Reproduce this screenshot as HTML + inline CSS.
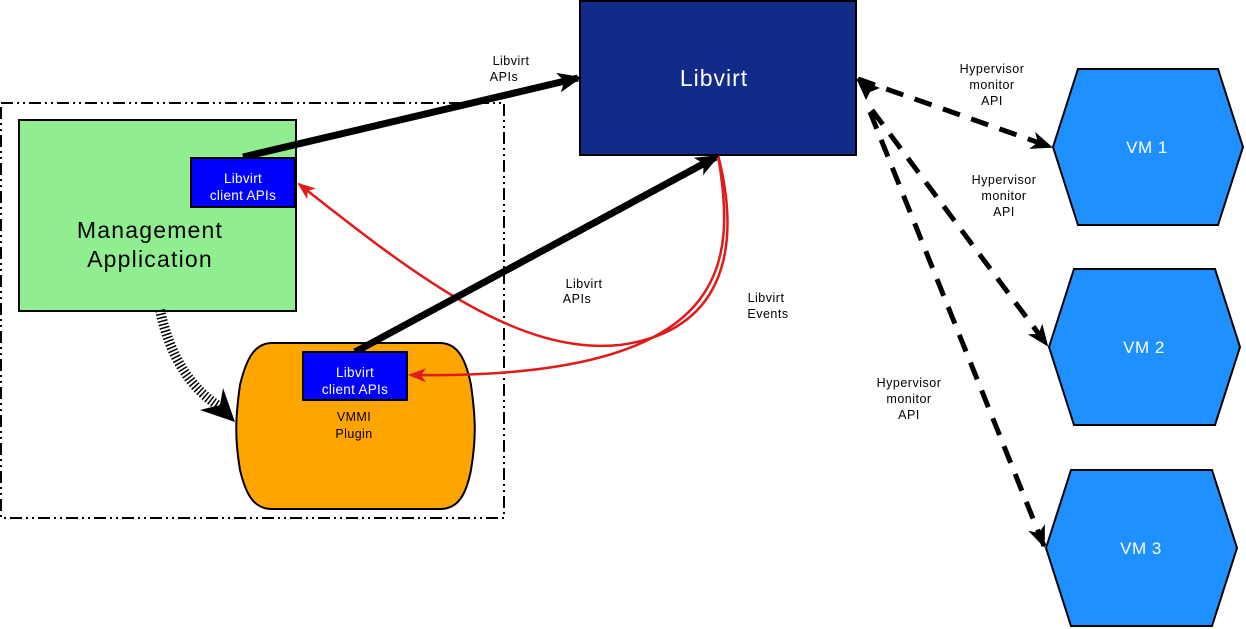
<!DOCTYPE html>
<html><head><style>html,body{margin:0;padding:0;background:#fff;}svg{display:block;font-family:"Liberation Sans",sans-serif;}</style></head>
<body>
<svg width="1246" height="629" viewBox="0 0 1246 629" xmlns="http://www.w3.org/2000/svg">
<defs>
<marker id="abig" markerWidth="24" markerHeight="24" refX="20" refY="12" orient="auto" markerUnits="userSpaceOnUse" viewBox="0 0 24 24"><path d="M0,2 L24,12 L0,22 L6,12 Z" fill="#000"/></marker>
<marker id="ad" markerWidth="22" markerHeight="22" refX="20" refY="11" orient="auto" markerUnits="userSpaceOnUse" viewBox="0 0 22 22"><path d="M0,2 L22,11 L0,20 L6,11 Z" fill="#000"/></marker>
<marker id="ar" markerWidth="18" markerHeight="18" refX="16" refY="9" orient="auto" markerUnits="userSpaceOnUse" viewBox="0 0 18 18"><path d="M0,2 L18,9 L0,16 L5,9 Z" fill="#e01b1b"/></marker>
</defs>
<rect x="1" y="103" width="503" height="415" fill="none" stroke="#000" stroke-width="2" stroke-dasharray="12,4,2,4,2,4"/>
<rect x="19" y="120" width="277" height="191" fill="#90ee90" stroke="#000" stroke-width="2"/>
<text x="150" y="238" font-size="23" letter-spacing="1.2" text-anchor="middle">Management</text>
<text x="150" y="267" font-size="23" letter-spacing="1.2" text-anchor="middle">Application</text>
<path d="M272,343 L440,343 C458,343 466,360 471,385 C476,420 476,440 471,470 C466,495 458,509 440,509 L272,509 C254,509 246,495 240,470 C235,440 235,420 240,385 C246,360 254,343 272,343 Z" fill="#ffa500" stroke="#000" stroke-width="2"/>
<text x="354" y="421" font-size="12.5" letter-spacing="0.4" text-anchor="middle">VMMI</text>
<text x="354" y="438" font-size="12.5" letter-spacing="0.4" text-anchor="middle">Plugin</text>
<rect x="580" y="1" width="276" height="154" fill="#122a88" stroke="#000" stroke-width="2"/>
<text x="714" y="86" font-size="23" letter-spacing="1" text-anchor="middle" fill="#fff">Libvirt</text>
<polygon points="1053,147 1078,69 1218,69 1243,147 1218,225 1078,225" fill="#1e90ff" stroke="#000" stroke-width="2"/>
<polygon points="1049,347 1074,269 1215,269 1240,347 1215,425 1074,425" fill="#1e90ff" stroke="#000" stroke-width="2"/>
<polygon points="1046,548 1071,470 1212,470 1237,548 1212,626 1071,626" fill="#1e90ff" stroke="#000" stroke-width="2"/>
<text x="1147" y="153" font-size="17" letter-spacing="0.5" text-anchor="middle" fill="#fff">VM 1</text>
<text x="1144" y="353" font-size="17" letter-spacing="0.5" text-anchor="middle" fill="#fff">VM 2</text>
<text x="1141" y="554" font-size="17" letter-spacing="0.5" text-anchor="middle" fill="#fff">VM 3</text>
<path d="M160,310 Q175,380 222,408" fill="none" stroke="#000" stroke-width="10" stroke-dasharray="1.5,2"/>
<path d="M200,410 L235,422 L223,388 L220,405 Z" fill="#000"/>
<path d="M718,155 C740,240 730,330 620,345 C520,355 420,280 299,184" fill="none" stroke="#e01b1b" stroke-width="2.5" marker-end="url(#ar)"/>
<path d="M718,155 C735,260 740,380 410,375" fill="none" stroke="#e01b1b" stroke-width="2.5" marker-end="url(#ar)"/>
<line x1="243" y1="157" x2="578" y2="78" stroke="#000" stroke-width="7" marker-end="url(#abig)"/>
<line x1="355" y1="352" x2="716" y2="157" stroke="#000" stroke-width="7" marker-end="url(#abig)"/>
<rect x="191" y="158" width="104" height="49" fill="#0000ff" stroke="#000" stroke-width="2"/>
<text x="243" y="183" font-size="13.5" letter-spacing="0.3" text-anchor="middle" fill="#fff">Libvirt</text>
<text x="243" y="200" font-size="13.5" letter-spacing="0.3" text-anchor="middle" fill="#fff">client APIs</text>
<rect x="303" y="352" width="104" height="48" fill="#0000ff" stroke="#000" stroke-width="2"/>
<text x="355" y="377" font-size="13.5" letter-spacing="0.3" text-anchor="middle" fill="#fff">Libvirt</text>
<text x="355" y="394" font-size="13.5" letter-spacing="0.3" text-anchor="middle" fill="#fff">client APIs</text>
<line x1="858" y1="79" x2="1051" y2="147" stroke="#000" stroke-width="5" stroke-dasharray="18,12" marker-end="url(#ad)"/>
<line x1="872" y1="110" x2="1047" y2="345" stroke="#000" stroke-width="5" stroke-dasharray="18,12" marker-end="url(#ad)"/>
<line x1="870" y1="112" x2="1044" y2="546" stroke="#000" stroke-width="5" stroke-dasharray="18,12" marker-end="url(#ad)"/>
<path d="M856,78 L880,88 L870,92 L866,100 Z" fill="#000"/>
<g font-size="12.5" letter-spacing="0.5" text-anchor="middle">
<text x="511" y="65">Libvirt</text><text x="504" y="81">APIs</text>
<text x="584" y="288">Libvirt</text><text x="577" y="303">APIs</text>
<text x="766" y="302">Libvirt</text><text x="768" y="318">Events</text>
<text x="992" y="73">Hypervisor</text><text x="992" y="89">monitor</text><text x="992" y="105">API</text>
<text x="1004" y="184">Hypervisor</text><text x="1004" y="200">monitor</text><text x="1004" y="216">API</text>
<text x="909" y="387">Hypervisor</text><text x="909" y="403">monitor</text><text x="909" y="419">API</text>
</g>
</svg>
</body></html>
